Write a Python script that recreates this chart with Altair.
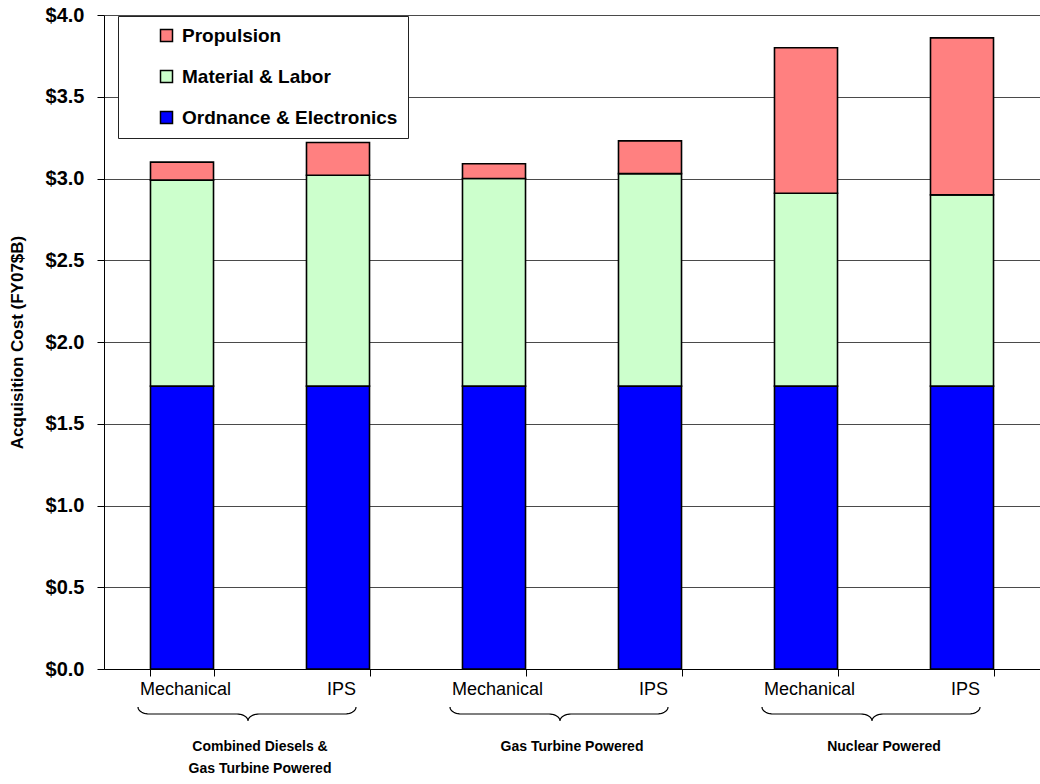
import altair as alt
import numpy as np
import pandas as pd

# ---- data -----------------------------------------------------------------
groups = ["Combined Diesels & Gas Turbine Powered", "Gas Turbine Powered", "Nuclear Powered"]
group_label_lines = [["Combined Diesels &", "Gas Turbine Powered"],
                     ["Gas Turbine Powered"],
                     ["Nuclear Powered"]]
variants = ["Mechanical", "IPS"]

components = ["Ordnance & Electronics", "Material & Labor", "Propulsion"]
component_colors = ["#0000FF", "#CCFFCC", "#FF8080"]

# acquisition cost per ship, FY07 $B (one value per bar, groups x variants)
ordnance_electronics = [1.73, 1.73, 1.73, 1.73, 1.73, 1.73]
material_labor = [1.26, 1.29, 1.27, 1.30, 1.18, 1.17]
propulsion = [0.11, 0.20, 0.09, 0.20, 0.89, 0.96]

y_ticks = [0.0, 0.5, 1.0, 1.5, 2.0, 2.5, 3.0, 3.5, 4.0]

# ---- layout ---------------------------------------------------------------
PLOT_W, PLOT_H = 936, 654
STEP = PLOT_W / (len(groups) * len(variants))
FONT = "Liberation Sans"

# ---- tables ---------------------------------------------------------------
keys = [f"{g}|{v}" for g in groups for v in variants]
series = [ordnance_electronics, material_labor, propulsion]
bar_rows = []
for i, key in enumerate(keys):
    for order, (comp, vals) in enumerate(zip(components, series)):
        bar_rows.append({"key": key, "component": comp, "value": vals[i], "stack_order": order})
bar_df = pd.DataFrame(bar_rows)


def brace_points(left, tip, right, top, mid, bottom, r, n=12):
    """Curly brace path (opening downward) as a list of (x, y) in pixels."""
    t = np.linspace(0, np.pi / 2, n)
    xs, ys = [], []
    xs += list(left + r * (1 - np.cos(t))); ys += list(top + (mid - top) * np.sin(t))
    xs += list(tip - r + r * np.sin(t)); ys += list(mid + (bottom - mid) * (1 - np.cos(t)))
    xs += list(tip + r * (1 - np.cos(t))); ys += list(bottom - (bottom - mid) * np.sin(t))
    xs += list(right - r + r * np.sin(t)); ys += list(mid - (mid - top) * (1 - np.cos(t)))
    return list(zip(xs, ys))


brace_rows = []
label_rows = []
for gi, g in enumerate(groups):
    center = (2 * gi + 1) * STEP
    pts = brace_points(center - 122, center - 12, center + 96, top=38, mid=45, bottom=52, r=11)
    for j, (px, py) in enumerate(pts):
        brace_rows.append({"group": g, "px": px, "py": py, "idx": j})
    label_rows.append({"group": g, "px": center, "py": 71, "lines": group_label_lines[gi]})
brace_df = pd.DataFrame(brace_rows)
label_df = pd.DataFrame(label_rows)

# ---- bars -----------------------------------------------------------------
bars = alt.Chart(bar_df).mark_bar(stroke="black", strokeWidth=1.6).encode(
    x=alt.X(
        "key:N", sort=keys,
        scale=alt.Scale(paddingInner=0.596, paddingOuter=0.298),
        axis=alt.Axis(
            title=None, labelExpr="split(datum.label, '|')[1]", labelAngle=0,
            tickBand="extent", tickSize=7, labelPadding=4, labelFontSize=18,
            labelFontWeight="normal", grid=False, labelOffset=3,
        ),
    ),
    y=alt.Y(
        "value:Q", stack="zero",
        scale=alt.Scale(domain=[0, 4], nice=False),
        axis=alt.Axis(
            values=y_ticks, format="$.1f", title="Acquisition Cost (FY07$B)",
            labelFontSize=20, labelFontWeight="bold", tickSize=7, labelPadding=13,
            grid=True, gridColor="#4a4a4a", gridWidth=1,
            titleFontSize=17, titleFontWeight="bold", titleAngle=270,
            titleX=-87, titleY=PLOT_H / 2, titleAlign="center", titleBaseline="middle",
        ),
    ),
    color=alt.Color(
        "component:N",
        scale=alt.Scale(domain=components, range=component_colors),
        legend=alt.Legend(
            title=None, values=components[::-1], orient="none", legendX=14, legendY=1,
            fillColor="white", strokeColor="#222222", padding=10, rowPadding=21,
            symbolType="square", symbolSize=144, symbolOffset=29,
            symbolStrokeColor="black", symbolStrokeWidth=1.5, labelOffset=6,
            labelFontSize=19, labelFontWeight="bold", labelFont=FONT, labelColor="black",
            labelLimit=400,
        ),
    ),
    order=alt.Order("stack_order:Q"),
)

# ---- group braces and labels below the axis ------------------------------
bx = alt.X("px:Q", scale=alt.Scale(domain=[0, PLOT_W], nice=False, zero=False), axis=None)
by = alt.Y("py:Q", scale=alt.Scale(domain=[0, 115], range=[PLOT_H, PLOT_H + 115], nice=False, zero=False), axis=None)

braces = alt.Chart(brace_df).mark_line(color="black", strokeWidth=1.2, clip=False).encode(
    x=bx, y=by, detail="group:N", order="idx:Q",
)

group_labels = alt.Chart(label_df).mark_text(
    fontSize=14, fontWeight="bold", baseline="top", align="center", lineHeight=22,
    color="black", font=FONT, clip=False,
).encode(x=bx, y=by, text="lines")

chart = alt.layer(bars, braces, group_labels).resolve_scale(
    x="independent", y="independent"
).properties(
    width=PLOT_W, height=PLOT_H,
    padding={"left": 104, "top": 15, "right": 0, "bottom": 115},
    autosize="none",
).configure(font=FONT).configure_view(stroke=None).configure_axis(
    domainColor="black", tickColor="black", labelColor="black", titleColor="black",
    labelFont=FONT, titleFont=FONT,
)

chart.save("out.html", embed_options={"renderer": "svg", "actions": False})
